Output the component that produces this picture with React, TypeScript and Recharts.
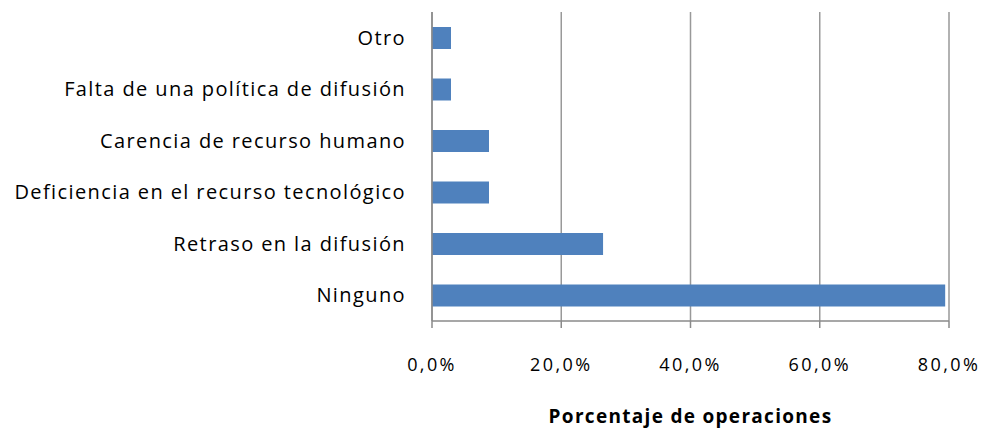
import React from "react";
import { BarChart, Bar, XAxis, YAxis, CartesianGrid } from "recharts";

const categories = [
  "Otro",
  "Falta de una política de difusión",
  "Carencia de recurso humano",
  "Deficiencia en el recurso tecnológico",
  "Retraso en la difusión",
  "Ninguno",
];
const values = [2.94, 2.94, 8.82, 8.82, 26.47, 79.41];
const xTicks = [0, 20, 40, 60, 80];
const bandTicks = [0, 1, 2, 3, 4, 5, 6];
const xTitle = "Porcentaje de operaciones";

const data = categories.map((c, i) => ({ name: c, value: values[i] }));

const FONT = "'Open Sans', Lato, sans-serif";
const AXIS = "#8a8a8a";

export default function App() {
  return (
    <div style={{ position: "absolute", left: 0, top: 0, background: "#fff" }}>
      <BarChart
        width={987}
        height={433}
        data={data}
        layout="vertical"
        margin={{ top: 12, right: 38, bottom: 0, left: 0 }}
        barSize={22}
      >
        <CartesianGrid horizontal={false} stroke="#999" strokeWidth={1.5} />
        <XAxis
          type="number"
          domain={[0, 80]}
          ticks={xTicks}
          interval={0}
          height={112}
          stroke={AXIS}
          strokeWidth={1.5}
          tickSize={7}
          tickMargin={30}
          tick={{ fill: "#000", fontSize: 18, fontFamily: FONT, letterSpacing: 2.4 }}
          tickFormatter={(v: number) => `${v.toFixed(1).replace(".", ",")}%`}
          label={{
            value: xTitle,
            position: "insideBottom",
            offset: 10,
            style: { fill: "#000", fontSize: 19, fontWeight: 700, fontFamily: FONT, letterSpacing: 1.3 },
          }}
        />
        <YAxis
          yAxisId="cat"
          type="category"
          dataKey="name"
          width={432}
          axisLine={{ stroke: AXIS, strokeWidth: 1.5 }}
          tickLine={false}
          tickSize={0}
          tickMargin={26}
          interval={0}
          tick={{ fill: "#000", fontSize: 20, fontFamily: FONT, letterSpacing: 1.4 }}
        />
        <YAxis
          yAxisId="band"
          type="number"
          domain={[0, 6]}
          ticks={bandTicks}
          width={0}
          axisLine={false}
          tick={false}
          tickSize={8}
          tickLine={{ stroke: AXIS, strokeWidth: 1.5 }}
        />
        <Bar yAxisId="cat" dataKey="value" fill="#4F81BD" isAnimationActive={false} />
      </BarChart>
    </div>
  );
}
